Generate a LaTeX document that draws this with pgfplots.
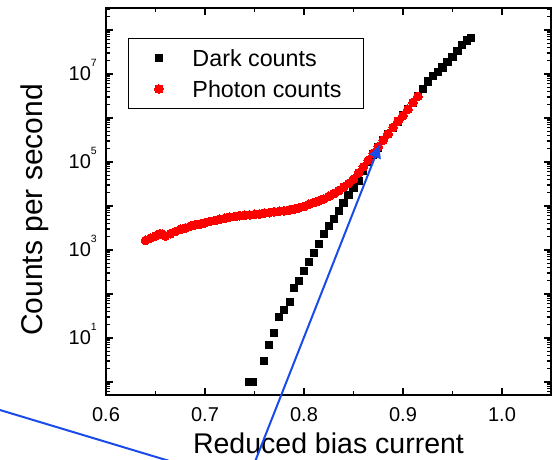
\documentclass[border=0pt]{standalone}
\usepackage{fontspec}
\setmainfont{Liberation Sans}
\usepackage{pgfplots}
\usepackage{pgfplotstable}
\pgfplotsset{compat=1.18}
\usetikzlibrary{arrows.meta}
\definecolor{arrowblue}{RGB}{25,75,235}
\newcommand{\tpow}[1]{10\smash{\raisebox{14pt}{\fontsize{10.5}{10.5}\selectfont #1}}}
\pgfplotstableread{
x y
0.7444 1
0.7485 1
0.760 3.0
0.765 6.9
0.770 13
0.7747 29.6
0.780 44
0.7855 66
0.790 139
0.795 200
0.800 333
0.805 525
0.810 857
0.815 1350
0.820 2350
0.825 3510
0.830 5040
0.835 7800
0.840 11900
0.845 17800
0.850 25300
0.855 37000
0.860 62400
0.865 1.0e5
0.870 1.48e5
0.875 2.14e5
0.880 3.1e5
0.885 4.27e5
0.890 6.0e5
0.895 8.3e5
0.900 1.15e6
0.905 1.58e6
0.910 2.19e6
0.915 3.16e6
0.920 4.57e6
0.925 6.76e6
0.930 8.9e6
0.935 1.12e7
0.940 1.41e7
0.945 1.9e7
0.950 2.45e7
0.955 3.3e7
0.960 4.57e7
0.965 5.75e7
0.969 6.46e7
}\darktab
\pgfplotstableread{
x y
0.640 1660
0.645 1862
0.650 2089
0.6545 2344
0.657 2291
0.660 2089
0.665 2344
0.670 2630
0.675 2951
0.680 3162
0.685 3467
0.690 3715
0.695 3890
0.700 4169
0.705 4467
0.710 4677
0.715 5012
0.720 5248
0.725 5623
0.730 5754
0.735 6026
0.740 6166
0.745 6310
0.750 6457
0.755 6607
0.760 6918
0.765 7079
0.770 7413
0.775 7586
0.780 7762
0.785 8128
0.790 8511
0.795 9120
0.800 9772
0.805 10965
0.810 12023
0.815 13183
0.820 14454
0.825 16596
0.830 19055
0.835 22387
0.840 26915
0.845 32359
0.850 40738
0.855 56234
0.860 77625
0.865 109648
0.870 158489
0.875 223872
0.880 316228
0.885 436516
0.890 616595
0.895 851138
0.900 1122018
0.905 1584893
0.910 2238721
0.915 3090295
}\photontab
\begin{document}
\begin{tikzpicture}
\clip (-106pt,-64pt) rectangle (448pt,395pt);
\begin{axis}[
  at={(0pt,0pt)}, anchor=south west,
  scale only axis, width=445pt, height=387pt,
  xmin=0.6, xmax=1.0495,
  ymode=log, ymin=0.507, ymax=3.16e8,
  xtick={0.6,0.7,0.8,0.9,1.0},
  xticklabels={0.6,0.7,0.8,0.9,1.0},
  minor xtick={0.65,0.75,0.85,0.95},
  ytick={1,10,100,1000,1e4,1e5,1e6,1e7,1e8},
  yticklabels={,\tpow{1},,\tpow{3},,\tpow{5},,\tpow{7},},
  minor ytick={0.6,0.7,0.8,0.9,2,3,4,5,6,7,8,9,20,30,40,50,60,70,80,90,200,300,400,500,600,700,800,900,2000,3000,4000,5000,6000,7000,8000,9000,2e4,3e4,4e4,5e4,6e4,7e4,8e4,9e4,2e5,3e5,4e5,5e5,6e5,7e5,8e5,9e5,2e6,3e6,4e6,5e6,6e6,7e6,8e6,9e6,2e7,3e7,4e7,5e7,6e7,7e7,8e7,9e7,2e8,3e8},
  tick align=inside,
  major tick length=7pt, minor tick length=4pt,
  axis line style={line width=2pt},
  every tick/.style={black, line width=1.3pt},
  xticklabel style={anchor=base, inner sep=0pt, yshift=-26.5pt, font=\fontsize{20}{22}\selectfont},
  yticklabel style={anchor=east, inner sep=0pt, xshift=-9pt, font=\fontsize{20}{22}\selectfont},
  xlabel={Reduced bias current},
  ylabel={Counts per second},
  xlabel style={at={(axis description cs:0.5,-0.151)}, anchor=base, inner sep=0pt, font=\fontsize{28.5}{32}\selectfont},
  ylabel style={at={(axis description cs:-0.1416,0.478)}, anchor=base, rotate=0, inner sep=0pt, font=\fontsize{30}{34}\selectfont},
  legend image code/.code={\path (0pt,0pt) (30pt,0pt); \draw[mark repeat=2,mark phase=2,#1] plot coordinates {(0pt,0pt) (15pt,0pt) (30pt,0pt)};},
  legend style={at={(rel axis cs:0.0494,0.9225)}, anchor=north west, draw=black, line width=1pt,
    inner xsep=15pt, inner ysep=11pt, row sep=14pt, column sep=18pt,
    nodes={inner sep=0pt, text height=17pt, text depth=0pt, font=\fontsize{23.3}{28}\selectfont},
    cells={anchor=west}},
]
\addplot[only marks, mark=square*, mark size=3.6pt, black, mark options={line width=0pt}] table[x=x,y=y] {\darktab};
\addlegendentry{Dark counts}
\addplot[only marks, mark=*, mark size=4.4pt, red, mark options={draw=red, fill=red, line width=0pt}] table[x=x,y=y] {\photontab};
\addlegendentry{Photon counts\hspace*{7pt}}
\end{axis}
\draw[arrowblue, line width=2pt, -{Latex[length=15pt,width=13pt]}] (137.6pt,-95.6pt) -- (274.5pt,252pt);
\draw[arrowblue, line width=2pt] (-120pt,-10.8pt) -- (80pt,-71pt);
\end{tikzpicture}
\end{document}
